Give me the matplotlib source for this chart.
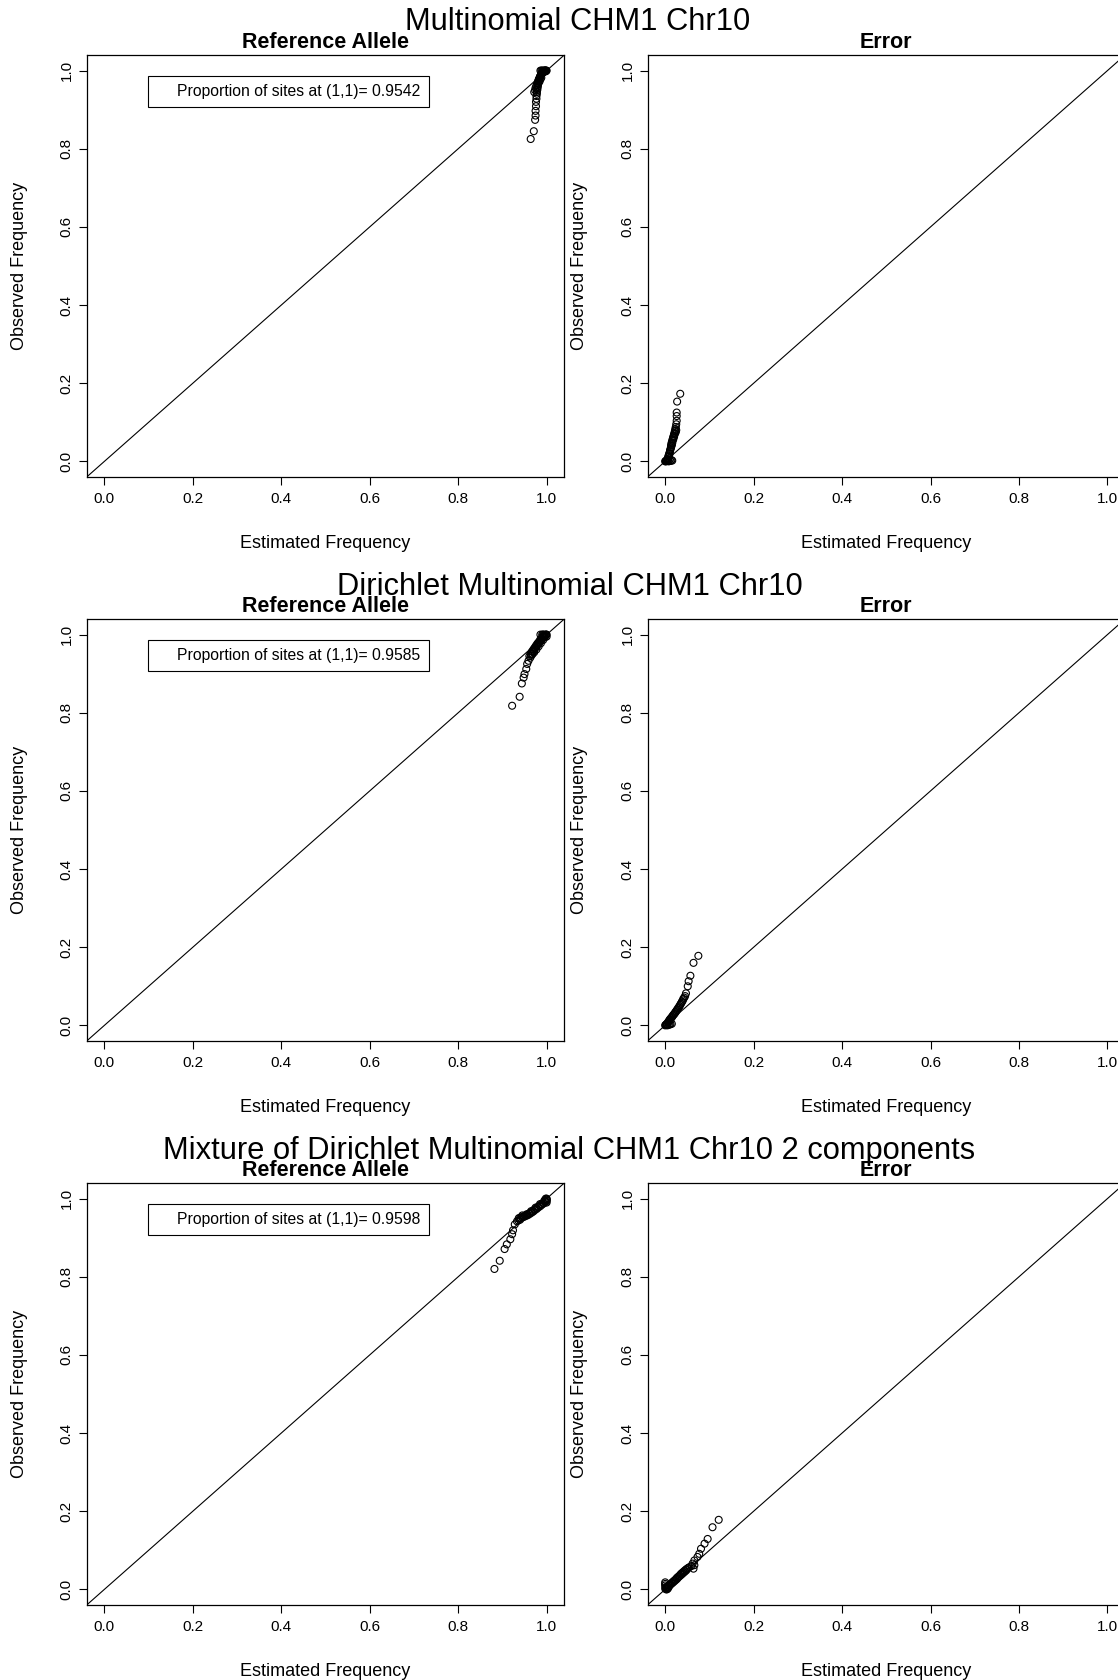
import matplotlib
matplotlib.use("Agg")
import matplotlib.pyplot as plt
from matplotlib.patches import Rectangle

plt.rcParams['font.family'] = ['Liberation Sans', 'DejaVu Sans']

#%% Data
row_titles = ['Multinomial CHM1 Chr10',
              'Dirichlet Multinomial CHM1 Chr10',
              'Mixture of Dirichlet Multinomial CHM1 Chr10 2 components']
proportions = [0.9542, 0.9585, 0.9598]

# Multinomial - reference allele
mult_ref_est = [0.964, 0.971, 0.974, 0.975, 0.975, 0.976, 0.976, 0.977, 0.977,
                0.978, 0.978, 0.979, 0.979, 0.980, 0.980, 0.981, 0.981, 0.982,
                0.982, 0.983, 0.984, 0.985, 0.986, 0.987, 0.988, 0.989, 0.990,
                0.991, 0.992, 0.993, 0.994, 0.995, 0.996, 0.997, 0.998, 0.999,
                1.000, 0.986, 0.990, 0.994,
                0.972, 0.974, 0.975, 0.977, 0.979, 0.981, 0.983, 0.985, 0.987,
                0.989, 0.991, 0.984, 0.986, 0.988, 0.988, 0.992, 0.996, 0.998]
mult_ref_obs = [0.825, 0.845, 0.874, 0.885, 0.897, 0.909, 0.920, 0.928, 0.935,
                0.941, 0.946, 0.951, 0.955, 0.959, 0.963, 0.966, 0.969, 0.972,
                0.975, 0.978, 0.981, 0.984, 0.986, 0.988, 0.990, 0.992, 0.994,
                0.995, 0.996, 0.997, 0.998, 0.999, 1.000, 1.000, 1.000, 1.000,
                1.000, 1.000, 1.000, 1.000,
                0.945, 0.950, 0.956, 0.962, 0.968, 0.974, 0.979, 0.984, 0.989,
                0.993, 0.997, 0.972, 0.978, 0.982, 1.000, 1.000, 1.000, 0.998]

# Multinomial - error
mult_err_est = [0.034, 0.027, 0.026, 0.026, 0.026, 0.025, 0.024, 0.023, 0.022,
                0.021, 0.020, 0.019, 0.018, 0.017, 0.016, 0.015, 0.0145, 0.014,
                0.0135, 0.013, 0.012, 0.011, 0.010, 0.009, 0.008, 0.007, 0.006,
                0.005, 0.004, 0.002, 0.000, 0.008, 0.012, 0.016, 0.003,
                0.022, 0.020, 0.018, 0.016, 0.015, 0.013, 0.011, 0.009, 0.007,
                0.005, 0.010, 0.014, 0.006, 0.001, 0.024, 0.025]
mult_err_obs = [0.173, 0.153, 0.125, 0.116, 0.104, 0.095, 0.088, 0.083, 0.078,
                0.073, 0.069, 0.065, 0.061, 0.057, 0.053, 0.049, 0.046, 0.043,
                0.040, 0.036, 0.031, 0.026, 0.021, 0.016, 0.012, 0.008, 0.005,
                0.003, 0.001, 0.000, 0.000, 0.000, 0.001, 0.002, 0.002,
                0.070, 0.062, 0.055, 0.047, 0.041, 0.035, 0.028, 0.020, 0.013,
                0.006, 0.004, 0.003, 0.001, 0.001, 0.075, 0.080]

# Dirichlet multinomial - reference allele
dm_ref_est = [0.922, 0.939, 0.944, 0.948, 0.950, 0.954, 0.956, 0.959, 0.963,
              0.965, 0.967, 0.969, 0.971, 0.973, 0.975, 0.977, 0.979, 0.981,
              0.983, 0.985, 0.987, 0.989, 0.991, 0.993, 0.995, 0.997, 0.999,
              1.000, 0.986, 0.990, 0.994, 1.000,
              0.961, 0.964, 0.967, 0.970, 0.973, 0.976, 0.979, 0.982, 0.985,
              0.988, 0.991, 0.994, 0.968, 0.972, 0.977, 0.982, 0.987, 0.992,
              0.996, 0.998, 0.992]
dm_ref_obs = [0.818, 0.841, 0.875, 0.890, 0.899, 0.912, 0.925, 0.933, 0.941,
              0.946, 0.951, 0.955, 0.959, 0.963, 0.967, 0.970, 0.973, 0.976,
              0.979, 0.982, 0.985, 0.988, 0.991, 0.994, 0.996, 0.998, 1.000,
              1.000, 1.000, 1.000, 1.000, 0.995,
              0.945, 0.951, 0.957, 0.962, 0.967, 0.972, 0.977, 0.981, 0.986,
              0.990, 0.994, 0.998, 0.950, 0.955, 0.962, 0.970, 0.978, 0.986,
              0.993, 1.000, 1.000]

# Dirichlet multinomial - error
dm_err_est = [0.075, 0.064, 0.057, 0.053, 0.051, 0.047, 0.043, 0.040, 0.037,
              0.034, 0.031, 0.028, 0.025, 0.022, 0.019, 0.016, 0.013, 0.010,
              0.008, 0.006, 0.004, 0.002, 0.000, 0.005, 0.010, 0.015,
              0.041, 0.038, 0.035, 0.032, 0.029, 0.026, 0.023, 0.020, 0.017,
              0.014, 0.011, 0.009, 0.007, 0.003, 0.001, 0.045, 0.008, 0.012]
dm_err_obs = [0.178, 0.160, 0.127, 0.113, 0.100, 0.082, 0.071, 0.064, 0.058,
              0.052, 0.046, 0.041, 0.036, 0.031, 0.027, 0.022, 0.018, 0.014,
              0.010, 0.007, 0.004, 0.002, 0.000, 0.000, 0.002, 0.004,
              0.068, 0.061, 0.055, 0.049, 0.044, 0.039, 0.034, 0.029, 0.025,
              0.020, 0.016, 0.012, 0.009, 0.003, 0.001, 0.075, 0.002, 0.003]

# Mixture of Dirichlet multinomials - reference allele
mix_ref_est = [0.882, 0.894, 0.905, 0.910, 0.918, 0.922, 0.924, 0.928, 0.933,
               0.937, 0.940, 0.944, 0.948, 0.952, 0.956, 0.960, 0.964, 0.968,
               0.972, 0.976, 0.980, 0.984, 0.988, 0.992, 0.996, 1.000, 1.000,
               1.000, 0.998,
               0.942, 0.946, 0.950, 0.954, 0.958, 0.962, 0.966, 0.970, 0.974,
               0.978, 0.982, 0.986, 0.990, 0.994, 0.998, 0.940, 0.936, 0.945,
               0.955, 0.965, 0.975, 0.985, 0.995, 1.000, 1.000]
mix_ref_obs = [0.820, 0.841, 0.871, 0.883, 0.896, 0.909, 0.919, 0.934, 0.942,
               0.950, 0.951, 0.953, 0.955, 0.957, 0.959, 0.962, 0.965, 0.968,
               0.972, 0.975, 0.979, 0.982, 0.986, 0.989, 0.993, 0.997, 1.000,
               0.990, 1.000,
               0.950, 0.952, 0.954, 0.956, 0.958, 0.961, 0.964, 0.967, 0.971,
               0.974, 0.978, 0.981, 0.985, 0.988, 0.992, 0.946, 0.944, 0.957,
               0.960, 0.968, 0.977, 0.986, 0.995, 0.994, 0.998]

# Mixture of Dirichlet multinomials - error
mix_err_est = [0.121, 0.107, 0.096, 0.089, 0.081, 0.077, 0.073, 0.066, 0.066,
               0.064, 0.055, 0.050, 0.047, 0.044, 0.041, 0.038, 0.035, 0.032,
               0.029, 0.026, 0.023, 0.020, 0.017, 0.014, 0.011, 0.008, 0.005,
               0.002, 0.000, 0.000, 0.000, 0.004, 0.008,
               0.048, 0.045, 0.042, 0.039, 0.036, 0.033, 0.030, 0.027, 0.024,
               0.021, 0.018, 0.015, 0.012, 0.009, 0.006, 0.003, 0.001, 0.000,
               0.002, 0.006, 0.060, 0.062, 0.052]
mix_err_obs = [0.178, 0.159, 0.129, 0.117, 0.104, 0.091, 0.083, 0.074, 0.062,
               0.053, 0.057, 0.053, 0.051, 0.048, 0.045, 0.042, 0.039, 0.035,
               0.032, 0.029, 0.025, 0.022, 0.019, 0.016, 0.013, 0.010, 0.007,
               0.004, 0.002, 0.010, 0.018, 0.000, 0.006,
               0.049, 0.046, 0.043, 0.040, 0.037, 0.034, 0.031, 0.027, 0.024,
               0.021, 0.018, 0.015, 0.012, 0.009, 0.006, 0.003, 0.006, 0.014,
               0.000, 0.002, 0.060, 0.066, 0.055]

ref_data = [(mult_ref_est, mult_ref_obs), (dm_ref_est, dm_ref_obs),
            (mix_ref_est, mix_ref_obs)]
err_data = [(mult_err_est, mult_err_obs), (dm_err_est, dm_err_obs),
            (mix_err_est, mix_err_obs)]

ticks = [0.0, 0.2, 0.4, 0.6, 0.8, 1.0]
tick_labels = ['0.0', '0.2', '0.4', '0.6', '0.8', '1.0']

#%% Layout (pixel positions of the plot boxes)
W, H = 1118, 1680
box_w, box_h = 477.6, 422
left_x = [86.7, 647.5]
row_top = [55, 619, 1183]
title_y = [22, 587, 1151]
title_x = [578, 570, 569]

fig = plt.figure(figsize=(W / 100, H / 100), dpi=100)


def format_axes(ax, title, xlabel_text='Estimated Frequency'):
    ax.set_xlim(-0.04, 1.04)
    ax.set_ylim(-0.04, 1.04)
    ax.set_xticks(ticks)
    ax.set_yticks(ticks)
    ax.set_xticklabels(tick_labels)
    ax.set_yticklabels(tick_labels, rotation=90, va='center')
    ax.tick_params(direction='out', length=5.8, width=0.8, labelsize=11,
                   pad=5)
    ax.tick_params(axis='y', pad=3.5)
    for spine in ax.spines.values():
        spine.set_linewidth(0.9)
    ax.set_xlabel(xlabel_text, fontsize=13, va='center')
    ax.xaxis.set_label_coords(0.5, -66 / box_h)
    ax.set_ylabel('Observed Frequency', fontsize=13, va='center')
    ax.yaxis.set_label_coords(-67.6 / box_w, 0.5)
    ax.text(0.5, 1 + 12 / box_h, title, transform=ax.transAxes,
            ha='center', va='center', fontsize=15.5, fontweight='bold')


for r in range(3):
    bottom = 1 - (row_top[r] + box_h) / H
    fig.text(title_x[r] / W, 1 - title_y[r] / H, row_titles[r],
             ha='center', va='center', fontsize=22.2)
    for c in range(2):
        ax = fig.add_axes([left_x[c] / W, bottom, box_w / W, box_h / H])
        est, obs = (ref_data if c == 0 else err_data)[r]
        ax.axline((0, 0), slope=1, color='black', lw=0.8)
        ax.scatter(est, obs, s=25, facecolors='none', edgecolors='black',
                   linewidths=0.8, zorder=3)
        format_axes(ax, 'Reference Allele' if c == 0 else 'Error')
        if c == 0:
            ax.add_patch(Rectangle((0.128, 0.8765), 0.589, 0.0735,
                                   transform=ax.transAxes, fill=False,
                                   edgecolor='black', lw=0.8))
            ax.text(0.698, 0.913,
                    f'Proportion of sites at (1,1)= {proportions[r]:.4f}',
                    transform=ax.transAxes, ha='right', va='center',
                    fontsize=11.3)

fig.savefig('out.png', dpi=100)
